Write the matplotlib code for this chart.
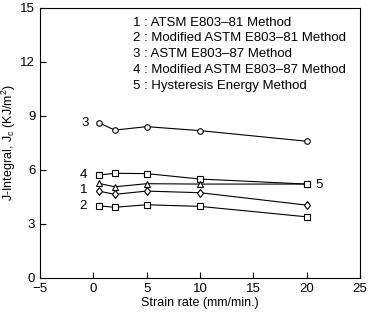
import matplotlib.pyplot as plt

plt.rcParams['font.family'] = ['Liberation Sans', 'DejaVu Sans']

rates = [0.5, 2, 5, 10, 20]
m1_astm81 = [4.82, 4.64, 4.82, 4.73, 4.04]
m2_mod81 = [4.00, 3.92, 4.06, 3.97, 3.39]
m3_astm87 = [8.62, 8.21, 8.40, 8.18, 7.59]
m4_mod87 = [5.71, 5.81, 5.79, 5.49, 5.21]
m5_hyst = [5.25, 5.06, 5.23, 5.21, 5.21]

legend_lines = [
    '1 : ATSM E803\u201381 Method',
    '2 : Modified ASTM E803\u201381 Method',
    '3 : ASTM E803\u201387 Method',
    '4 : Modified ASTM E803\u201387 Method',
    '5 : Hysteresis Energy Method',
]

fig = plt.figure(figsize=(3.68, 3.15), dpi=100)
ax = fig.add_axes([0.109, 0.118, 0.869, 0.857])

kw = dict(color='black', lw=0.8, mfc='white', mec='black', mew=0.8)
ax.plot(rates, m3_astm87, marker='o', ms=4, **kw)
ax.plot(rates, m4_mod87, marker='s', ms=4.5, **kw)
ax.plot(rates, m5_hyst, marker='^', ms=4, markevery=[0, 1, 2, 3], **kw)
ax.plot(rates, m1_astm81, marker='d', ms=4.5, **kw)
ax.plot(rates, m2_mod81, marker='s', ms=4.5, **kw)
# redraw the shared end square on top
ax.plot(rates[-1:], m4_mod87[-1:], marker='s', ms=4.5, **kw)

fs = 9
ax.text(-0.4, m3_astm87[0], '3', ha='right', va='center', fontsize=fs + 0.5)
ax.text(-0.6, m4_mod87[0], '4', ha='right', va='center', fontsize=fs + 0.5)
ax.text(-0.6, 4.9, '1', ha='right', va='center', fontsize=fs + 0.5)
ax.text(-0.6, m2_mod81[0], '2', ha='right', va='center', fontsize=fs + 0.5)
ax.text(20.8, m4_mod87[-1] - 0.05, '5', ha='left', va='center', fontsize=fs + 0.5)

for i, s in enumerate(legend_lines):
    ax.text(3.7, 14.18 - i * 0.88, s, ha='left', va='center', fontsize=9.5)

ax.set_xlim(-5, 25)
ax.set_ylim(0, 15)
ax.set_xticks(range(-5, 26, 5))
ax.set_yticks(range(0, 16, 3))
ax.tick_params(direction='in', length=4, width=0.8, labelsize=fs + 0.5)
for sp in ax.spines.values():
    sp.set_linewidth(0.8)
ax.set_xlabel('Strain rate (mm/min.)', fontsize=fs, labelpad=2)
ax.set_ylabel('J-Integral, J$_\\mathregular{c}$ (KJ/m$^\\mathregular{2}$)', fontsize=fs, labelpad=2)

fig.savefig('out.png', dpi=100)
